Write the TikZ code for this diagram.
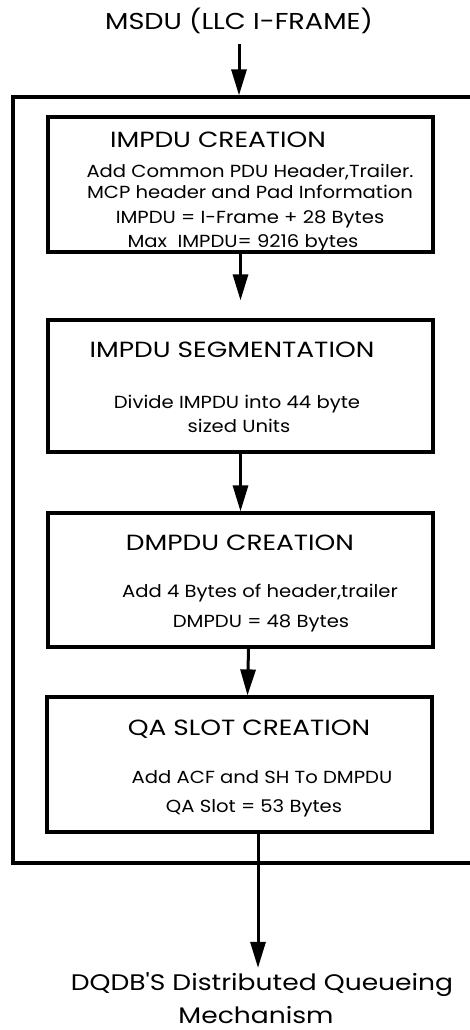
\documentclass[tikz,border=0pt]{standalone}
\usepackage{fontspec}
\setmainfont{Poppins}
\newfontfamily\bodyfam{Poppins}[FakeStretch=1.12]
\newfontfamily\ttlfam{Poppins}[FakeStretch=1.2]
\newfontfamily\bigfam{Poppins}[FakeStretch=1.18]
\usetikzlibrary{arrows.meta}
\begin{document}
\begin{tikzpicture}[x=1pt,y=-1pt,
  box/.style={draw, line width=3.2pt, minimum width=385pt, inner sep=0pt},
  arr/.style={line width=3pt, -{Triangle[length=26pt,width=15pt]}},
  ttl/.style={anchor=base, inner sep=0pt, font=\ttlfam\fontsize{22}{22}\selectfont},
  txt/.style={anchor=base, inner sep=0pt, font=\bodyfam\fontsize{17.5}{17.5}\selectfont},
  big/.style={anchor=base, inner sep=0pt, font=\bigfam\fontsize{23}{23}\selectfont}]
\clip (0,0) rectangle (470,1030);
\node[draw, line width=3.2pt, minimum width=507pt, minimum height=766pt, inner sep=0pt] (outer) at (266.5,480) {};
\node[box, minimum height=135pt] (b1) at (240.5,184.5) {};
\node[box, minimum height=132pt] (b2) at (240.5,386) {};
\node[box, minimum height=134pt] (b3) at (240.5,580) {};
\node[box, minimum height=135pt] (b4) at (239.5,764.5) {};
\node[big] (msdu) at (239,30) {MSDU (LLC I-FRAME)};
\node[ttl] (t1a) at (218,147) {IMPDU CREATION};
\node[txt] (t1b) at (250,177) {Add Common PDU Header,Trailer.};
\node[txt] (t1c) at (250,198) {MCP header and Pad Information};
\node[txt] (t1d) at (250,223) {IMPDU = I-Frame + 28 Bytes};
\node[txt] (t1e) at (243,247) {Max\ \ IMPDU= 9216 bytes};
\node[ttl] (t2a) at (232,357) {IMPDU SEGMENTATION};
\node[txt] (t2b) at (237,408) {Divide IMPDU into 44 byte};
\node[txt] (t2c) at (239,432) {sized Units};
\node[ttl] (t3a) at (240,550) {DMPDU CREATION};
\node[txt] (t3b) at (260,597) {Add 4 Bytes of header,trailer};
\node[txt] (t3c) at (261,627) {DMPDU = 48 Bytes};
\node[ttl] (t4a) at (249,735) {QA SLOT CREATION};
\node[txt] (t4b) at (262,783) {Add ACF and SH To DMPDU};
\node[txt] (t4c) at (254,812) {QA Slot = 53 Bytes};
\node[big, font=\bigfam\fontsize{22.5}{22.5}\selectfont] (dqdb) at (262,990) {DQDB'S Distributed Queueing};
\node[big, font=\bigfam\fontsize{22.5}{22.5}\selectfont] (mech) at (256,1023) {Mechanism};
\draw[arr] ([yshift=-14pt]msdu.base) -- (msdu.base |- outer.north);
\draw[arr] (b1.south) -- ([yshift=18pt]b2.north);
\draw[arr] (b2.south) -- (b3.north);
\draw[arr] ([xshift=8pt]b3.south) -- ([xshift=8pt]b4.north);
\draw[arr] ([xshift=18.5pt]b4.south) -- ([xshift=18.5pt,yshift=4pt]b4.south |- dqdb.north);
\end{tikzpicture}
\end{document}
